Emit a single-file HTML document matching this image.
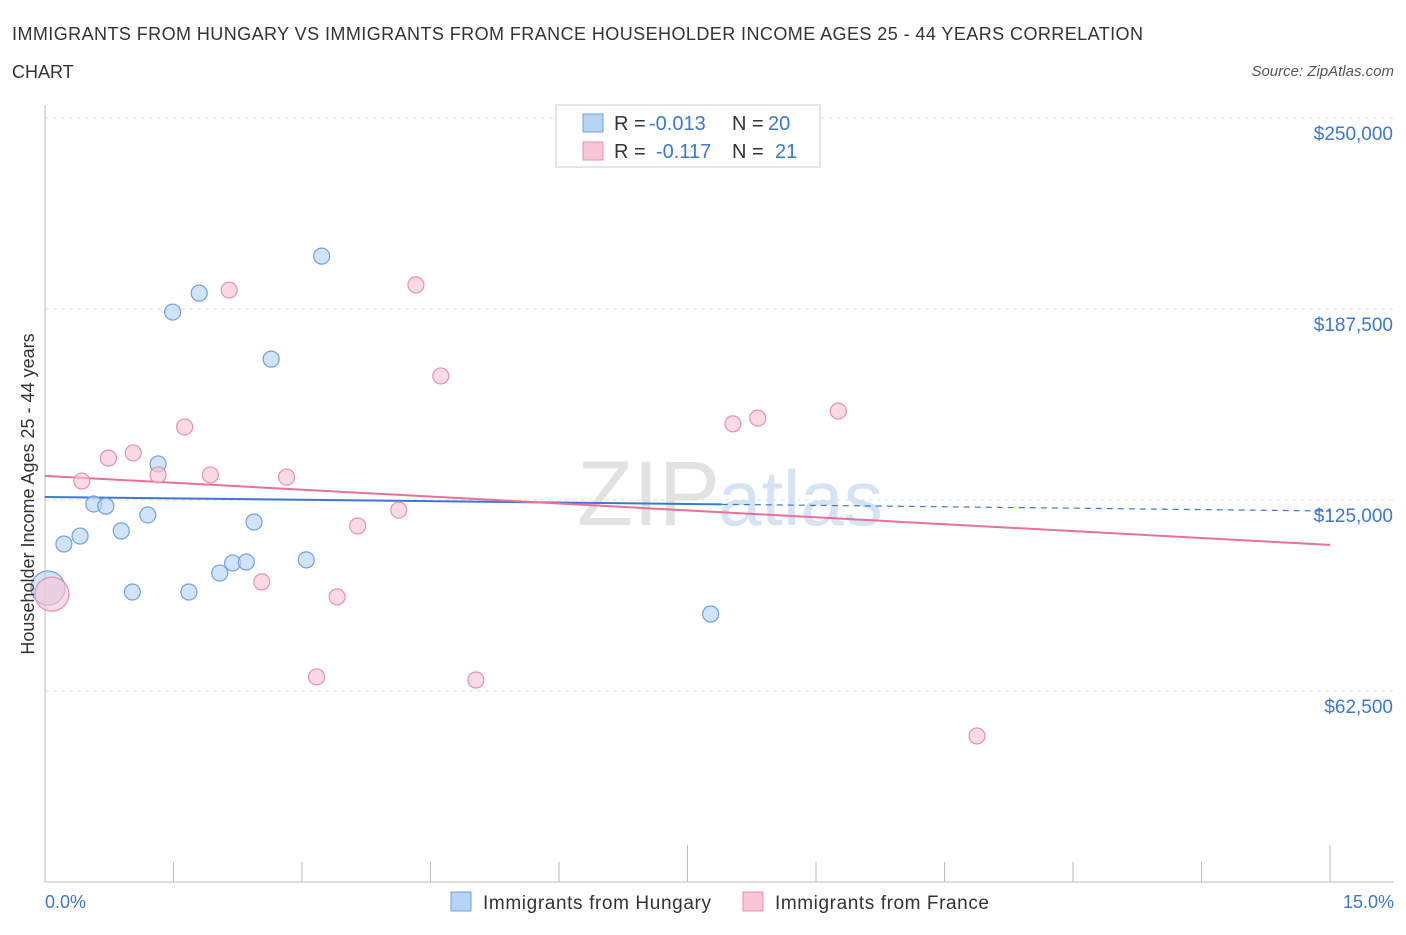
<!DOCTYPE html>
<html><head><meta charset="utf-8"><style>
body{margin:0;background:#fff;font-family:"Liberation Sans",sans-serif;}
svg text{font-family:"Liberation Sans",sans-serif;}
</style></head><body>
<svg id="chart" width="1406" height="930" xmlns="http://www.w3.org/2000/svg">
<text x="12" y="40" font-size="18" fill="#333" textLength="1131" lengthAdjust="spacing">IMMIGRANTS FROM HUNGARY VS IMMIGRANTS FROM FRANCE HOUSEHOLDER INCOME AGES 25 - 44 YEARS CORRELATION</text>
<text x="12" y="78" font-size="18" fill="#333">CHART</text>
<text x="1394" y="76" font-size="15" fill="#555" text-anchor="end" font-style="italic">Source: ZipAtlas.com</text>
<text x="720" y="525" font-size="92" fill="#e2e2e2" text-anchor="end" font-family="Liberation Serif">ZIP</text>
<text x="718" y="525" font-size="78" fill="#d6e3f3">atlas</text>
<g id="grid"></g>
<g id="axes"></g>
<g id="trends"></g>
<g id="points"></g>
<text transform="translate(34,494) rotate(-90)" font-size="18" fill="#333" text-anchor="middle">Householder Income Ages 25 - 44 years</text>
<text x="45" y="908" font-size="18" fill="#3a78d4">0.0%</text>
<text x="1394" y="908" font-size="18" fill="#3a78d4" text-anchor="end">15.0%</text>
<g font-size="20">
<rect x="556" y="105" width="264" height="62" fill="#fff" stroke="#ccc"/>
<rect x="583" y="114" width="20" height="18" fill="#b8d4f5" stroke="#6fa0e0"/>
<rect x="583" y="142" width="20" height="18" fill="#f8c6d4" stroke="#e890ab"/>
<text x="614" y="130" fill="#333">R =</text><text x="649" y="130" fill="#3a78d4">-0.013</text>
<text x="732" y="130" fill="#333">N =</text><text x="768" y="130" fill="#3a78d4">20</text>
<text x="614" y="158" fill="#333">R =</text><text x="656" y="158" fill="#3a78d4">-0.117</text>
<text x="732" y="158" fill="#333">N =</text><text x="775" y="158" fill="#3a78d4">21</text>
</g>
<g>
<rect x="451" y="892" width="20" height="19" fill="#b8d4f5" stroke="#6fa0e0"/>
<text x="483" y="909" font-size="19" fill="#333" textLength="228" lengthAdjust="spacing">Immigrants from Hungary</text>
<rect x="743" y="892" width="20" height="19" fill="#f8c6d4" stroke="#e890ab"/>
<text x="775" y="909" font-size="19" fill="#333" textLength="214" lengthAdjust="spacing">Immigrants from France</text>
</g>
</svg>
<script>
const yTicks=[62500,125000,187500,250000];
const yTickLabels=["$62,500","$125,000","$187,500","$250,000"];
const hungaryX=[0.035,0.22,0.41,0.57,0.71,0.89,1.20,1.32,1.49,1.80,1.68,1.02,2.04,2.19,2.35,2.44,2.64,3.05,3.23,7.77];
const hungaryY=[96200,110600,113200,123700,123000,114900,120100,136800,186500,192700,94900,94900,101100,104400,104700,117800,171100,105400,204800,87700];
const franceX=[0.08,0.43,0.74,1.03,1.32,1.63,1.93,2.15,2.53,2.82,3.17,3.41,3.65,4.13,4.33,4.62,5.03,8.03,8.32,9.26,10.88];
const franceY=[94200,131200,138700,140400,133200,148900,133200,193700,98200,132500,67100,93300,116500,121700,195400,165600,66100,149900,151800,154100,47800];
const hungaryTrend=[126000,121400];
const franceTrend=[132900,110300];
const NS="http://www.w3.org/2000/svg";
const xs=v=>45+v/15*1285;
const ys=v=>882-v/62500*191;
function mk(tag,attrs,parent){const e=document.createElementNS(NS,tag);for(const k in attrs)e.setAttribute(k,attrs[k]);document.getElementById(parent).appendChild(e);return e;}
yTicks.forEach((t,i)=>{
 const l=mk('line',{x1:45,x2:1394,y1:ys(t),y2:ys(t),stroke:'#ddd','stroke-dasharray':'4,4'},'grid');
 
 
 const tx=mk('text',{x:1393,y:ys(t)+22,'font-size':19,fill:'#3a78d4','text-anchor':'end'},'grid');
 tx.textContent=yTickLabels[i];
 
 
});
const ax=mk('line',{x1:45,x2:1394,y1:882,y2:882,stroke:'#bbb'},'axes');


const ay=mk('line',{x1:45,x2:45,y1:105,y2:882,stroke:'#bbb'},'axes');


for(let i=1;i<=10;i++){
 const t=mk('line',{x1:xs(i*1.5),x2:xs(i*1.5),y1:882,y2:i==5||i==10?845:862,stroke:'#bbb'},'axes');
 
 
}
const xb=7.9;
const hy=x=>hungaryTrend[0]+(hungaryTrend[1]-hungaryTrend[0])*x/15;
let a=mk('line',{x1:xs(0),y1:ys(hy(0)),x2:xs(xb),y2:ys(hy(xb)),stroke:'#3a78d4','stroke-width':2},'trends');


a=mk('line',{x1:xs(xb),y1:ys(hy(xb)),x2:xs(15),y2:ys(hy(15)),stroke:'#3a78d4','stroke-width':1.2,'stroke-dasharray':'6,5'},'trends');


a=mk('line',{x1:xs(0),y1:ys(franceTrend[0]),x2:xs(15),y2:ys(franceTrend[1]),stroke:'#e8709a','stroke-width':2},'trends');


function pts(X,Y,fill,stroke,name){
 X.forEach((x,i)=>{
  const big=i==0;
  const c=mk('circle',{cx:xs(x),cy:ys(Y[i]),r:big?17:8,fill:fill,'fill-opacity':0.65,stroke:stroke,'stroke-width':1.2},'points');
  
  
 });
}
pts(hungaryX,hungaryY,'#b8d4f5','#6fa0e0','hungary-point');
pts(franceX,franceY,'#f8c6d4','#e890ab','france-point');
</script>
</body></html>
